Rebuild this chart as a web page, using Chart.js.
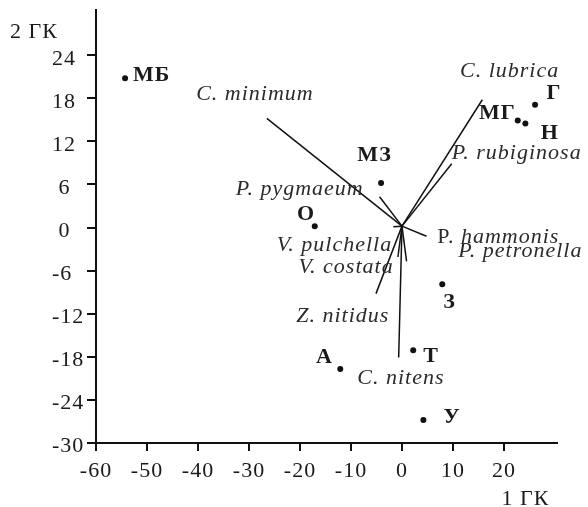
<!DOCTYPE html>
<html>
<head>
<meta charset="utf-8">
<script src="https://cdn.jsdelivr.net/npm/chart.js@4"></script>
<style>
  html, body { margin: 0; padding: 0; background: #fff; }
  #wrap { width: 588px; height: 507px; }
</style>
</head>
<body>
<div id="wrap"><canvas id="c" width="588" height="507"></canvas></div>
<script>
// Sites: scores on the 1st and 2nd principal components
const siteNames = ['МБ', 'Г', 'МГ', 'Н', 'МЗ', 'О', 'З', 'Т', 'А', 'У'];
const siteX = [-54.3, 26.1, 22.7, 24.2, -4.1, -17.1, 7.9, 2.2, -12.1, 4.2];
const siteY = [20.8, 17.1, 14.9, 14.5, 6.2, 0.2, -7.9, -17.1, -19.7, -26.8];

// Species: loading vectors drawn from the origin
const speciesNames = ['C. minimum', 'C. lubrica', 'P. rubiginosa', 'P. pygmaeum', 'P. hammonis',
                      'P. petronella', 'V. pulchella', 'V. costata', 'Z. nitidus', 'C. nitens'];
const speciesX = [-26.5, 15.75, 9.75, -4.4, 4.8, 0.9, -1.7, -0.8, -5.1, -0.65];
const speciesY = [15.2, 17.8, 8.9, 4.3, -1.2, -4.7, 0.1, -4.1, -9.2, -18.1];
const vectorOrigin = [0, 0.2];
// part of a name set in roman type (rest is italic)
const speciesRomanPrefix = ['', '', '', '', 'P.', '', '', '', '', ''];

// Axis ticks and titles
const xTicks = [-60, -50, -40, -30, -20, -10, 0, 10, 20];
const yTicks = [-30, -24, -18, -12, -6, 0, 6, 12, 18, 24];
const xTitle = '1 ГК';
const yTitle = '2 ГК';

// Label placement: pixel offsets [dx, dy] of the text baseline start from its mark
const siteLabelOffsets = [[8, 2.3], [11.4, -6], [-2, -1.7], [15.4, 16], [-23.7, -22],
                          [-17.7, -6], [1, 24], [10, 11.7], [-24.3, -5.7], [20, 3.3]];
const siteLabelAlign = ['left', 'left', 'right', 'left', 'left', 'left', 'left', 'left', 'left', 'left'];
const speciesLabelOffsets = [[-70.7, -18.3], [-22.3, -22.6], [0, -4.8], [-143.7, -1.5], [10.7, 7.3],
                             [51.6, -4], [-116.6, 23.7], [-99.4, 16.3], [-79.7, 28.4], [-41.4, 26]];

const SERIF = '"Liberation Serif", "Times New Roman", serif';
const INK = '#111';

const datasets = speciesNames.map((name, i) => ({
  label: name,
  data: [{ x: vectorOrigin[0], y: vectorOrigin[1] }, { x: speciesX[i], y: speciesY[i] }],
  showLine: true,
  borderColor: INK,
  borderWidth: 1.5,
  pointRadius: 0,
  fill: false
}));
datasets.push({
  label: 'sites',
  data: siteX.map((x, i) => ({ x, y: siteY[i] })),
  showLine: false,
  pointRadius: 3,
  pointBackgroundColor: INK,
  pointBorderWidth: 0
});

const labelPlugin = {
  id: 'biplotLabels',
  beforeDraw(chart) {
    chart.ctx.letterSpacing = '1px';
  },
  afterDraw(chart) {
    const ctx = chart.ctx;
    const xs = chart.scales.x, ys = chart.scales.y;
    const area = chart.chartArea;
    ctx.save();
    ctx.letterSpacing = '1px';
    ctx.textBaseline = 'alphabetic';

    // site labels
    ctx.font = 'bold 22px ' + SERIF;
    ctx.fillStyle = '#1a1a1a';
    siteNames.forEach((name, i) => {
      const px = xs.getPixelForValue(siteX[i]);
      const py = ys.getPixelForValue(siteY[i]);
      ctx.textAlign = siteLabelAlign[i];
      ctx.fillText(name, px + siteLabelOffsets[i][0], py + siteLabelOffsets[i][1]);
    });

    // species labels
    ctx.fillStyle = '#2b2b2b';
    ctx.textAlign = 'left';
    speciesNames.forEach((name, i) => {
      let px = xs.getPixelForValue(speciesX[i]) + speciesLabelOffsets[i][0];
      const py = ys.getPixelForValue(speciesY[i]) + speciesLabelOffsets[i][1];
      const prefix = speciesRomanPrefix[i];
      let rest = name;
      if (prefix) {
        ctx.font = '22px ' + SERIF;
        ctx.fillText(prefix, px, py);
        px += ctx.measureText(prefix).width;
        rest = name.slice(prefix.length);
      }
      ctx.font = 'italic 22px ' + SERIF;
      ctx.fillText(rest, px, py);
    });

    // axis titles
    ctx.font = '22px ' + SERIF;
    ctx.fillStyle = '#1a1a1a';
    ctx.fillText(yTitle, area.left - 86, area.top + 28);
    ctx.fillText(xTitle, area.right - 55, area.bottom + 62);
    ctx.restore();
  }
};

new Chart(document.getElementById('c'), {
  type: 'scatter',
  data: { datasets },
  options: {
    responsive: false,
    devicePixelRatio: 1,
    animation: false,
    layout: { padding: { left: 52, top: 10, right: 31.5, bottom: 0 } },
    plugins: { legend: { display: false }, tooltip: { enabled: false } },
    scales: {
      x: {
        type: 'linear',
        min: -60,
        max: 30.3,
        afterBuildTicks: s => { s.ticks = xTicks.map(v => ({ value: v })); },
        afterFit: s => { s.height = 64; s.paddingLeft = 0; s.paddingRight = 0; },
        ticks: {
          autoSkip: false,
          maxRotation: 0,
          padding: 7.5,
          color: '#1a1a1a',
          font: { family: SERIF, size: 22 },
          callback: v => String(v)
        },
        grid: { drawOnChartArea: false, drawTicks: true, tickLength: 8, lineWidth: 2, color: INK },
        border: { display: true, width: 2, color: INK }
      },
      y: {
        type: 'linear',
        position: 'left',
        min: -30,
        max: 30.3,
        afterBuildTicks: s => { s.ticks = yTicks.map(v => ({ value: v })); },
        afterFit: s => { s.width = 44; s.paddingTop = 0; s.paddingBottom = 0; },
        ticks: {
          autoSkip: false,
          crossAlign: 'far',
          labelOffset: 3.5,
          padding: 3,
          color: '#1a1a1a',
          font: { family: SERIF, size: 22 },
          callback: v => (String(v).length < 2 ? ' ' : '') + v
        },
        grid: { drawOnChartArea: false, drawTicks: true, tickLength: 9, lineWidth: 2, color: INK },
        border: { display: true, width: 2, color: INK }
      }
    }
  },
  plugins: [labelPlugin]
});
</script>
</body>
</html>
